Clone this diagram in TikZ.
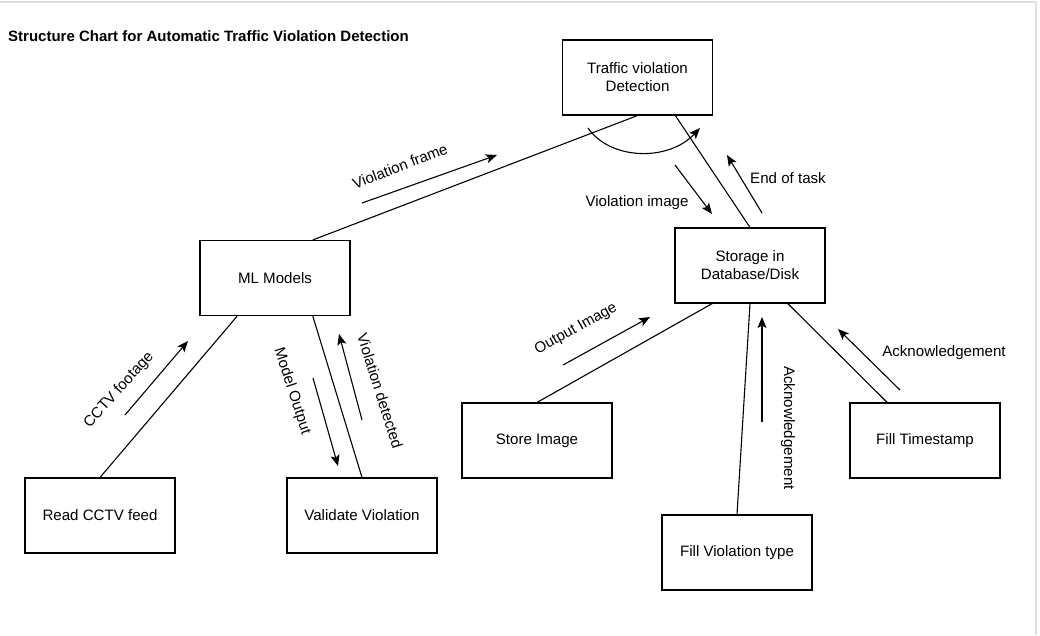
\documentclass[tikz,border=0pt]{standalone}
\usepackage{fontspec}
\setmainfont{Liberation Sans}
\usetikzlibrary{arrows.meta,calc}
\begin{document}
\begin{tikzpicture}[x=1pt,y=-1pt,
  box/.style={draw,line width=1.1pt,minimum width=150pt,minimum height=75pt,inner sep=0pt,align=center,font=\fontsize{15.1}{18}\selectfont},
  link/.style={line width=1.1pt},
  flow/.style={line width=1.1pt,-{Stealth[length=11pt,width=9pt,inset=2.5pt]}},
  lbl/.style={font=\fontsize{15.1}{18}\selectfont,inner sep=0pt}]
\useasboundingbox (0,0) rectangle (1040,635);
\fill[white] (0,0) rectangle (1040,635);
\draw[gray!25,line width=2pt] (0,2) -- (1036,2);
\draw[gray!25,line width=2pt] (1036,2) -- (1036,635);

\node[anchor=west,inner sep=0pt,font=\bfseries\fontsize{15}{18}\selectfont] (title) at (8,36) {Structure Chart for Automatic Traffic Violation Detection};

\node[box] (tvd) at (637.5,77.5) {Traffic violation\\Detection};
\node[box] (ml) at (275,278) {ML Models};
\node[box] (st) at (750,265.5) {Storage in\\Database/Disk};
\node[box] (rc) at (100,515.5) {Read CCTV feed};
\node[box] (vv) at (362,515.5) {Validate Violation};
\node[box] (si) at (537,440.5) {Store Image};
\node[box] (ft) at (925,440.5) {Fill Timestamp};
\node[box] (fv) at (737,552.5) {Fill Violation type};

% connectors
\draw[link] ($(ml.north)!0.5!(ml.north east)$) -- (tvd.south);
\draw[link] ($(tvd.south)!0.5!(tvd.south east)$) -- (st.north);
\draw[link] ($(ml.south west)!0.5!(ml.south)$) -- (rc.north);
\draw[link] ($(ml.south)!0.5!(ml.south east)$) -- (vv.north);
\draw[link] ($(st.south west)!0.5!(st.south)$) -- (si.north);
\draw[link] (st.south) -- (fv.north);
\draw[link] ($(st.south)!0.5!(st.south east)$) -- ($(ft.north west)!0.5!(ft.north)$);

% flow arrows
\coordinate (vf1) at (362,203); \coordinate (vf2) at (497,155);
\draw[flow] (vf1) -- (vf2);
\node[lbl,rotate=21] (vfl) at (400,166) {Violation frame};

\coordinate (a1) at (588,128); \coordinate (a2) at (700,128);
\draw[flow] (a1) .. controls (610,160) and (668,162) .. (a2);

\coordinate (vi1) at (675,165); \coordinate (vi2) at (712,214);
\draw[flow] (vi1) -- (vi2);
\node[lbl] (vil) at (637,203) {Violation image};

\coordinate (et1) at (762,213); \coordinate (et2) at (727,155);
\draw[flow] (et1) -- (et2);
\node[lbl] (etl) at (788,178) {End of task};

\coordinate (cf1) at (125,415); \coordinate (cf2) at (188,341);
\draw[flow] (cf1) -- (cf2);
\node[lbl,rotate=48] (cfl) at (119,390) {CCTV footage};

\coordinate (mo1) at (313,378); \coordinate (mo2) at (338,466);
\draw[flow] (mo1) -- (mo2);
\node[lbl,rotate=-72] (mol) at (292,391) {Model Output};

\coordinate (vd1) at (362,420); \coordinate (vd2) at (339,334);
\draw[flow] (vd1) -- (vd2);
\node[lbl,rotate=-72.5] (vdl) at (380,391) {Violation detected};

\coordinate (oi1) at (563,365); \coordinate (oi2) at (650,317);
\draw[flow] (oi1) -- (oi2);
\node[lbl,rotate=29] (oil) at (576,329) {Output Image};

\coordinate (ak1) at (762,422); \coordinate (ak2) at (762,317);
\draw[flow] (ak1) -- (ak2);
\node[lbl,rotate=-90] (akl) at (788,428) {Acknowledgement};

\coordinate (ak3) at (900,390); \coordinate (ak4) at (838,329);
\draw[flow] (ak3) -- (ak4);
\node[lbl] (akl2) at (944,353) {Acknowledgement};
\end{tikzpicture}
\end{document}
